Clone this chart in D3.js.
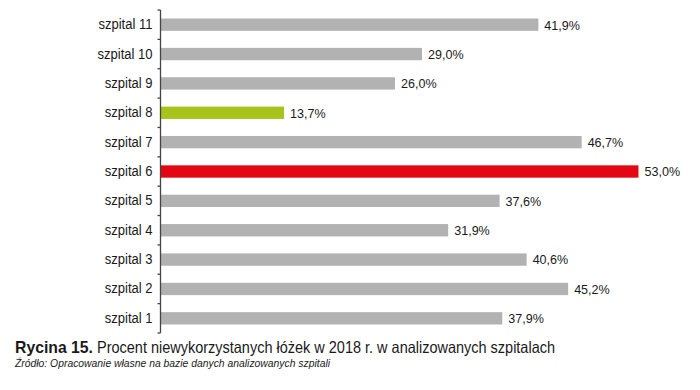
<!DOCTYPE html>
<html><head><meta charset="utf-8">
<script src="https://cdn.jsdelivr.net/npm/d3@7"></script>
<style>
body{margin:0;background:#fff;}
svg{display:block;font-family:"Liberation Sans",Arial,sans-serif;}
</style></head>
<body><svg id="c" width="700" height="390"></svg>
<script>
const categories = ["szpital 11","szpital 10","szpital 9","szpital 8","szpital 7","szpital 6","szpital 5","szpital 4","szpital 3","szpital 2","szpital 1"];
const values = [41.9,29.0,26.0,13.7,46.7,53.0,37.6,31.9,40.6,45.2,37.9];
const highlight = {"szpital 8":"#a7c41a","szpital 6":"#e30613"};
const baseColor = "#b2b2b2";
const titleBold = "Rycina 15.";
const titleText = "Procent niewykorzystanych łóżek w 2018 r. w analizowanych szpitalach";
const sourceText = "Źródło: Opracowanie własne na bazie danych analizowanych szpitali";

const svg = d3.select("#c");
const x = d3.scaleLinear().domain([0,60]).range([160.5,701.6]);
const y = d3.scaleBand().domain(categories).range([10,333]).paddingInner(0.58).paddingOuter(0.29);

svg.append("g").selectAll("rect").data(categories).join("rect")
  .attr("x", x(0)+0.5)
  .attr("y", d=>y(d))
  .attr("width", (d,i)=>x(values[i])-x(0)-0.5)
  .attr("height", y.bandwidth())
  .attr("fill", d=>highlight[d]||baseColor);

const squeeze = function(f){ return function(){ const w=this.getComputedTextLength(); d3.select(this).attr("textLength",w*f).attr("lengthAdjust","spacingAndGlyphs"); }; };

svg.append("g").selectAll("text").data(categories).join("text")
  .attr("x", (d,i)=>x(values[i])+6)
  .attr("y", d=>y(d)+y.bandwidth()/2)
  .attr("dy","0.36em")
  .attr("font-size",13.5)
  .attr("fill","#1a1a1a")
  .text((d,i)=>values[i].toFixed(1).replace(".",",")+"%")
  .each(squeeze(0.93));

const axis = d3.axisLeft(y).tickSize(0).tickPadding(8);
const ag = svg.append("g").attr("transform",`translate(${x(0)},0)`).call(axis);
ag.select(".domain").remove();
ag.selectAll("text").attr("font-size",14).attr("fill","#1a1a1a").attr("font-family","Liberation Sans, Arial, sans-serif")
  .each(squeeze(0.93));
ag.append("line").attr("x1",0).attr("x2",0).attr("y1",10).attr("y2",333).attr("stroke","#444").attr("stroke-width",1.3);
const bounds = d3.range(categories.length+1).map(i=>10+i*(323/categories.length));
ag.selectAll(".bt").data(bounds).join("line").attr("class","bt")
  .attr("x1",-3).attr("x2",0).attr("y1",d=>d).attr("y2",d=>d)
  .attr("stroke","#444").attr("stroke-width",1.3);

svg.append("text").attr("x",15).attr("y",353).attr("font-size",16.5).attr("font-weight","bold").attr("fill","#1a1a1a")
  .attr("textLength",78).attr("lengthAdjust","spacingAndGlyphs").text(titleBold);
svg.append("text").attr("x",97).attr("y",353).attr("font-size",16.5).attr("fill","#1a1a1a")
  .attr("textLength",458).attr("lengthAdjust","spacingAndGlyphs").text(titleText);
svg.append("text").attr("x",15).attr("y",367).attr("font-size",10.5).attr("font-style","italic").attr("fill","#1a1a1a")
  .attr("textLength",315).attr("lengthAdjust","spacingAndGlyphs").text(sourceText);
</script></body></html>
